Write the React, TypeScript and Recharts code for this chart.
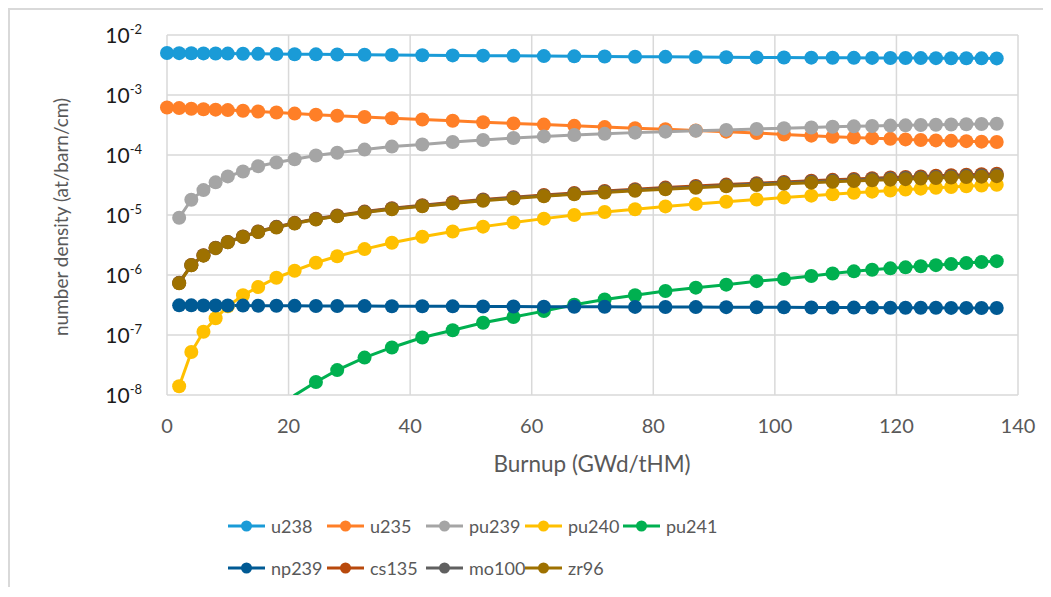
import React from "react";
import { LineChart, Line, XAxis, YAxis, CartesianGrid, Legend } from "recharts";

const FONT = "Lato, 'Liberation Sans', sans-serif";

const burnup = [0, 2, 4, 6, 8, 10, 12.5, 15, 18, 21, 24.5, 28, 32.5, 37, 42, 47, 52, 57, 62, 67, 72, 77, 82, 87, 92, 97, 101.5, 106, 109.5, 113, 116, 119, 121.5, 124, 126.5, 129, 131.5, 134, 136.5];

const u238 = [5.0e-3, 4.98e-3, 4.96e-3, 4.94e-3, 4.92e-3, 4.9e-3, 4.88e-3, 4.85e-3, 4.82e-3, 4.79e-3, 4.76e-3, 4.73e-3, 4.69e-3, 4.65e-3, 4.61e-3, 4.57e-3, 4.53e-3, 4.49e-3, 4.45e-3, 4.41e-3, 4.38e-3, 4.35e-3, 4.32e-3, 4.29e-3, 4.26e-3, 4.23e-3, 4.21e-3, 4.19e-3, 4.17e-3, 4.16e-3, 4.15e-3, 4.14e-3, 4.13e-3, 4.12e-3, 4.11e-3, 4.1e-3, 4.09e-3, 4.08e-3, 4.07e-3];
const u235 = [6.2e-4, 6.05e-4, 5.9e-4, 5.8e-4, 5.7e-4, 5.6e-4, 5.45e-4, 5.3e-4, 5.1e-4, 4.9e-4, 4.7e-4, 4.5e-4, 4.3e-4, 4.1e-4, 3.9e-4, 3.72e-4, 3.52e-4, 3.36e-4, 3.21e-4, 3.06e-4, 2.92e-4, 2.8e-4, 2.68e-4, 2.57e-4, 2.45e-4, 2.32e-4, 2.2e-4, 2.1e-4, 2.02e-4, 1.96e-4, 1.91e-4, 1.86e-4, 1.82e-4, 1.78e-4, 1.75e-4, 1.72e-4, 1.7e-4, 1.67e-4, 1.65e-4];
const pu239 = [null, 9.0e-6, 1.8e-5, 2.6e-5, 3.5e-5, 4.4e-5, 5.3e-5, 6.5e-5, 7.5e-5, 8.5e-5, 9.8e-5, 1.09e-4, 1.23e-4, 1.38e-4, 1.5e-4, 1.65e-4, 1.78e-4, 1.92e-4, 2.04e-4, 2.15e-4, 2.25e-4, 2.36e-4, 2.45e-4, 2.54e-4, 2.62e-4, 2.72e-4, 2.8e-4, 2.88e-4, 2.95e-4, 3.0e-4, 3.05e-4, 3.09e-4, 3.12e-4, 3.16e-4, 3.19e-4, 3.22e-4, 3.25e-4, 3.28e-4, 3.31e-4];
const pu240 = [null, 1.4e-8, 5.2e-8, 1.13e-7, 1.9e-7, 3.0e-7, 4.6e-7, 6.3e-7, 9.0e-7, 1.18e-6, 1.6e-6, 2.05e-6, 2.7e-6, 3.45e-6, 4.35e-6, 5.3e-6, 6.4e-6, 7.5e-6, 8.7e-6, 1.0e-5, 1.12e-5, 1.25e-5, 1.39e-5, 1.52e-5, 1.66e-5, 1.81e-5, 1.95e-5, 2.1e-5, 2.22e-5, 2.35e-5, 2.45e-5, 2.56e-5, 2.65e-5, 2.75e-5, 2.84e-5, 2.93e-5, 3.02e-5, 3.1e-5, 3.2e-5];
const pu241 = [null, 2e-12, 2.5e-11, 1e-10, 2.5e-10, 5e-10, 1.1e-9, 2.1e-9, 4.3e-9, 9.9e-9, 1.65e-8, 2.6e-8, 4.2e-8, 6.2e-8, 9.1e-8, 1.2e-7, 1.6e-7, 2.0e-7, 2.5e-7, 3.2e-7, 3.9e-7, 4.6e-7, 5.4e-7, 6.15e-7, 6.9e-7, 7.9e-7, 8.6e-7, 9.6e-7, 1.06e-6, 1.15e-6, 1.22e-6, 1.29e-6, 1.34e-6, 1.4e-6, 1.46e-6, 1.52e-6, 1.58e-6, 1.64e-6, 1.7e-6];
const np239 = [null, 3.12e-7, 3.12e-7, 3.11e-7, 3.1e-7, 3.1e-7, 3.09e-7, 3.08e-7, 3.07e-7, 3.06e-7, 3.05e-7, 3.04e-7, 3.03e-7, 3.02e-7, 3.01e-7, 3.0e-7, 2.99e-7, 2.98e-7, 2.97e-7, 2.96e-7, 2.95e-7, 2.94e-7, 2.93e-7, 2.92e-7, 2.91e-7, 2.9e-7, 2.89e-7, 2.88e-7, 2.87e-7, 2.86e-7, 2.86e-7, 2.85e-7, 2.85e-7, 2.84e-7, 2.84e-7, 2.83e-7, 2.83e-7, 2.82e-7, 2.82e-7];
const cs135 = [null, 7.4e-7, 1.47e-6, 2.13e-6, 2.84e-6, 3.56e-6, 4.38e-6, 5.3e-6, 6.35e-6, 7.4e-6, 8.65e-6, 9.8e-6, 1.14e-5, 1.3e-5, 1.46e-5, 1.63e-5, 1.81e-5, 1.98e-5, 2.16e-5, 2.33e-5, 2.51e-5, 2.68e-5, 2.86e-5, 3.04e-5, 3.21e-5, 3.39e-5, 3.56e-5, 3.72e-5, 3.85e-5, 3.98e-5, 4.09e-5, 4.21e-5, 4.3e-5, 4.4e-5, 4.5e-5, 4.59e-5, 4.69e-5, 4.78e-5, 4.88e-5];
const mo100 = [null, 7.35e-7, 1.46e-6, 2.12e-6, 2.82e-6, 3.53e-6, 4.34e-6, 5.25e-6, 6.28e-6, 7.3e-6, 8.53e-6, 9.65e-6, 1.12e-5, 1.27e-5, 1.43e-5, 1.59e-5, 1.77e-5, 1.93e-5, 2.1e-5, 2.27e-5, 2.44e-5, 2.6e-5, 2.77e-5, 2.94e-5, 3.11e-5, 3.28e-5, 3.44e-5, 3.59e-5, 3.71e-5, 3.83e-5, 3.93e-5, 4.04e-5, 4.13e-5, 4.22e-5, 4.31e-5, 4.4e-5, 4.49e-5, 4.57e-5, 4.66e-5];
const zr96 = [null, 7.3e-7, 1.45e-6, 2.1e-6, 2.8e-6, 3.5e-6, 4.3e-6, 5.2e-6, 6.2e-6, 7.2e-6, 8.4e-6, 9.5e-6, 1.1e-5, 1.25e-5, 1.4e-5, 1.56e-5, 1.73e-5, 1.89e-5, 2.05e-5, 2.21e-5, 2.37e-5, 2.53e-5, 2.69e-5, 2.85e-5, 3.01e-5, 3.17e-5, 3.32e-5, 3.46e-5, 3.57e-5, 3.68e-5, 3.78e-5, 3.88e-5, 3.96e-5, 4.04e-5, 4.12e-5, 4.2e-5, 4.28e-5, 4.36e-5, 4.44e-5];

const xTicks = [0, 20, 40, 60, 80, 100, 120, 140];
const yTicks = [1e-8, 1e-7, 1e-6, 1e-5, 1e-4, 1e-3, 1e-2];

const seriesNames = ["u238", "u235", "pu239", "pu240", "pu241", "np239", "cs135", "mo100", "zr96"];
const seriesValues: (number | null)[][] = [u238, u235, pu239, pu240, pu241, np239, cs135, mo100, zr96];
const seriesColors = ["#1A9BD7", "#FF7F27", "#A5A5A5", "#FFC000", "#00B050", "#005A94", "#B8490C", "#606060", "#9E7100"];

const data = burnup.map((bu, i) => {
  const row: Record<string, number | null> = { bu };
  seriesNames.forEach((n, k) => {
    row[n] = seriesValues[k][i];
  });
  return row;
});

const makeDot = (color: string) => (props: any) => {
  const { cx, cy, value, index } = props;
  const v = Array.isArray(value) ? value[1] : value;
  if (cx == null || cy == null || v == null || v < 1e-8) return <g key={`d-${index}`} />;
  return <circle key={`d-${index}`} cx={cx} cy={cy} r={7} fill={color} stroke="none" />;
};

const XTick = (props: any) => {
  const { x, y, payload } = props;
  return (
    <text x={x} y={y + 38} textAnchor="middle" fill="#595959" fontFamily={FONT} fontSize={20}>
      {payload.value}
    </text>
  );
};

const YTick = (props: any) => {
  const { x, y, payload } = props;
  const exp = Math.round(Math.log10(payload.value));
  return (
    <text x={x - 25} y={y + 8} textAnchor="end" fill="#1A1A1A" fontFamily={FONT} fontSize={21}>
      <tspan>10</tspan>
      <tspan dy={-9} fontSize={13}>{String(exp)}</tspan>
    </text>
  );
};

const renderYLabel = () => (
  <text
    x={50}
    y={207}
    transform="rotate(-90, 50, 207)"
    textAnchor="middle"
    dominantBaseline="central"
    fill="#595959"
    fontFamily={FONT}
    fontSize={19}
  >
    number density (at/barn/cm)
  </text>
);

const renderXLabel = () => (
  <text x={582} y={453} textAnchor="middle" dominantBaseline="central" fill="#595959" fontFamily={FONT} fontSize={22.5}>
    Burnup (GWd/tHM)
  </text>
);

const renderLegend = () => {
  const colStarts = [218, 317, 416, 515, 613];
  return (
    <div style={{ position: "relative", width: 1033, height: 70 }}>
      {seriesNames.map((name, i) => {
        const row = i < 5 ? 0 : 1;
        const col = i < 5 ? i : i - 5;
        const cy = row === 0 ? 14 : 56;
        const color = seriesColors[i];
        return (
          <div
            key={name}
            style={{ position: "absolute", left: colStarts[col], top: cy - 12, height: 24, display: "flex", alignItems: "center" }}
          >
            <svg width={37} height={24} style={{ display: "block" }}>
              <line x1={0} y1={12} x2={37} y2={12} stroke={color} strokeWidth={3} />
              <circle cx={18.5} cy={12} r={5.5} fill={color} />
            </svg>
            <span style={{ marginLeft: 6, fontSize: 18, color: "#595959", fontFamily: FONT, lineHeight: "24px", whiteSpace: "nowrap" }}>
              {name}
            </span>
          </div>
        );
      })}
    </div>
  );
};

export default function App() {
  return (
    <div
      style={{
        width: 1033,
        height: 577,
        borderTop: "2px solid #D9D9D9",
        borderLeft: "2px solid #D9D9D9",
        background: "#fff",
        fontFamily: FONT,
      }}
    >
      <LineChart width={1033} height={577} data={data} margin={{ top: 25, right: 25, left: 0, bottom: 5 }}>
        <CartesianGrid stroke="#D9D9D9" strokeWidth={1.5} />
        <XAxis
          dataKey="bu"
          type="number"
          domain={[0, 140]}
          ticks={xTicks}
          axisLine={false}
          tickLine={false}
          tickSize={0}
          tickMargin={0}
          height={117}
          tick={<XTick />}
          label={renderXLabel}
        />
        <YAxis
          type="number"
          scale="log"
          domain={[1e-8, 1e-2]}
          allowDataOverflow
          ticks={yTicks}
          axisLine={false}
          tickLine={false}
          tickSize={0}
          tickMargin={0}
          width={157}
          tick={<YTick />}
          label={renderYLabel}
          interval={0}
        />
        <Legend verticalAlign="bottom" content={renderLegend} wrapperStyle={{ left: 0, width: 1033, height: 70 }} />
        {seriesNames.map((name, i) => (
          <Line
            key={name}
            dataKey={name}
            type="linear"
            stroke={seriesColors[i]}
            strokeWidth={3}
            dot={makeDot(seriesColors[i])}
            activeDot={false}
            isAnimationActive={false}
            connectNulls={false}
          />
        ))}
      </LineChart>
    </div>
  );
}
